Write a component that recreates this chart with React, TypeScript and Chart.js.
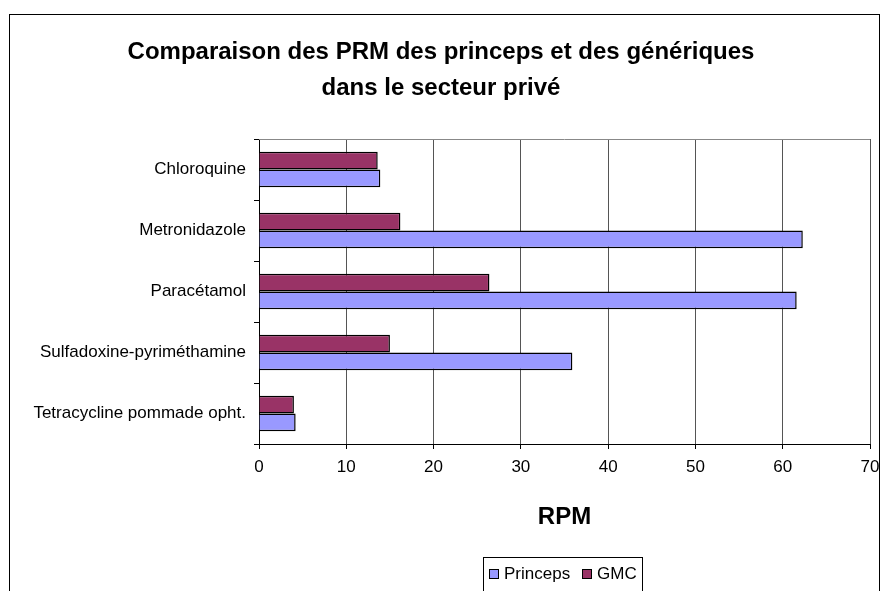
import React, { useEffect, useRef } from "react";
import { Chart, registerables } from "chart.js";

Chart.register(...registerables);

const categories = [
  "Chloroquine",
  "Metronidazole",
  "Paracétamol",
  "Sulfadoxine-pyriméthamine",
  "Tetracycline pommade opht.",
];
const gmcValues = [13.6, 16.2, 26.4, 15.0, 4.0];
const princepsValues = [13.9, 62.3, 61.6, 35.9, 4.2];
const titleLines = ["Comparaison des PRM des princeps et des génériques", "dans le secteur privé"];
const xAxisTitle = "RPM";
const legendNames = ["Princeps", "GMC"];

const PRINCEPS_COLOR = "#9999FF";
const GMC_COLOR = "#993366";
const FONT = "Arial, 'Liberation Sans', sans-serif";

const decorPlugin = {
  id: "decor",
  beforeDraw(chart: any) {
    const ctx = chart.ctx;
    ctx.save();
    ctx.fillStyle = "#ffffff";
    ctx.fillRect(0, 0, chart.width, chart.height);
    ctx.restore();
  },
  afterDraw(chart: any) {
    const ctx = chart.ctx;
    const area = chart.chartArea;
    ctx.save();
    // outer frame
    ctx.strokeStyle = "#000000";
    ctx.lineWidth = 1;
    ctx.strokeRect(9.5, 14.5, 870, 600);
    // top border of plot area
    ctx.strokeStyle = "#888888";
    ctx.beginPath();
    ctx.moveTo(area.left, Math.round(area.top) + 0.5);
    ctx.lineTo(area.right, Math.round(area.top) + 0.5);
    ctx.stroke();
    // titles
    ctx.fillStyle = "#000000";
    ctx.textAlign = "center";
    ctx.textBaseline = "middle";
    ctx.font = `bold 24px ${FONT}`;
    ctx.fillText(titleLines[0], 441, 52);
    ctx.fillText(titleLines[1], 441, 88);
    ctx.fillText(xAxisTitle, (area.left + area.right) / 2, 517);
    // legend
    ctx.strokeStyle = "#000000";
    ctx.strokeRect(483.5, 557.5, 159, 50);
    ctx.font = `17px ${FONT}`;
    ctx.textAlign = "left";
    const items = [
      { name: legendNames[0], color: PRINCEPS_COLOR, x: 489 },
      { name: legendNames[1], color: GMC_COLOR, x: 582 },
    ];
    for (const it of items) {
      ctx.fillStyle = it.color;
      ctx.fillRect(it.x + 0.5, 569.5, 9, 9);
      ctx.strokeRect(it.x + 0.5, 569.5, 9, 9);
      ctx.fillStyle = "#000000";
      ctx.fillText(it.name, it.x + 15, 574);
    }
    ctx.restore();
  },
};

export default function App() {
  const ref = useRef<HTMLCanvasElement | null>(null);
  useEffect(() => {
    document.body.style.margin = "0";
    if (!ref.current) return;
    const chart = new Chart(ref.current, {
      type: "bar",
      data: {
        labels: categories,
        datasets: [
          {
            label: legendNames[1],
            data: gmcValues,
            backgroundColor: GMC_COLOR,
            borderColor: "#000000",
            borderWidth: 1.5,
            categoryPercentage: 0.58,
            barPercentage: 1,
          },
          {
            label: legendNames[0],
            data: princepsValues,
            backgroundColor: PRINCEPS_COLOR,
            borderColor: "#000000",
            borderWidth: 1.5,
            categoryPercentage: 0.58,
            barPercentage: 1,
          },
        ],
      },
      options: {
        indexAxis: "y",
        responsive: false,
        animation: false,
        layout: { padding: { top: 139, right: 13, left: 0, bottom: 0 } },
        plugins: {
          legend: { display: false },
          title: { display: false },
          tooltip: { enabled: false },
        },
        scales: {
          x: {
            min: 0,
            max: 70,
            afterFit: (s: any) => {
              s.height = 147;
              s.paddingLeft = 0;
              s.paddingRight = 0;
            },
            ticks: {
              stepSize: 10,
              color: "#000000",
              font: { family: FONT, size: 17 },
              padding: 8,
            },
            grid: {
              color: "#555555",
              tickColor: "#000000",
              tickLength: 5,
              lineWidth: 1,
            },
            border: { color: "#000000", width: 1 },
          },
          y: {
            afterFit: (s: any) => {
              s.width = 259;
              s.paddingTop = 0;
              s.paddingBottom = 0;
            },
            ticks: {
              color: "#000000",
              font: { family: FONT, size: 17 },
              padding: 8,
            },
            grid: {
              drawOnChartArea: false,
              color: "#000000",
              tickLength: 5,
              offset: true,
            },
            border: { color: "#000000", width: 1 },
          },
        },
      },
      plugins: [decorPlugin],
    });
    return () => chart.destroy();
  }, []);
  return (
    <div style={{ width: 883, height: 591 }}>
      <canvas ref={ref} width={883} height={591} style={{ display: "block" }} />
    </div>
  );
}
